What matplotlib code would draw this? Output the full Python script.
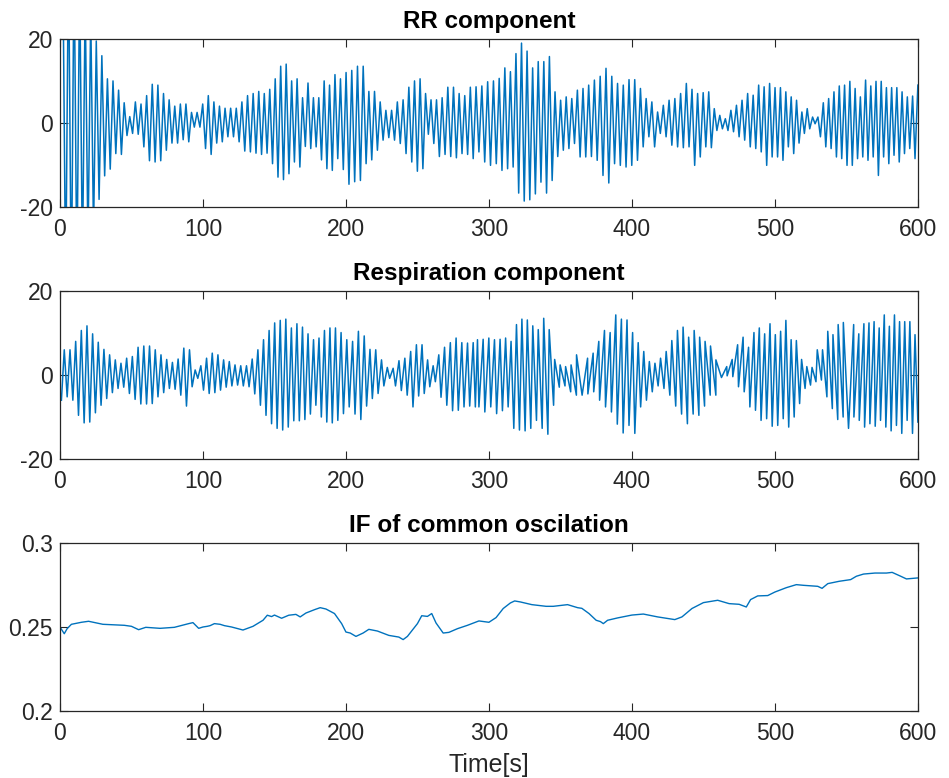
import numpy as np
import matplotlib
matplotlib.use("Agg")
import matplotlib.pyplot as plt

# ---------------- data ----------------
# IF of common oscillation (Hz) at sample times (s)
if_t = [0, 3, 5, 8, 15, 20, 30, 45, 50, 55, 60, 70, 80, 90, 93, 97, 100, 103, 105,
        108, 112, 115, 120, 128, 135, 142, 145, 148, 150, 155, 160, 165, 168, 172,
        178, 182, 186, 192, 197, 200, 203, 207, 212, 216, 222, 230, 237, 240, 243,
        250, 253, 257, 260, 263, 268, 272, 278, 285, 293, 300, 305, 310, 315, 318,
        322, 330, 340, 345, 355, 362, 365, 370, 375, 378, 380, 383, 390, 400, 408,
        418, 430, 435, 442, 450, 460, 468, 475, 480, 483, 488, 495, 500, 508, 515,
        520, 530, 533, 537, 545, 553, 557, 562, 570, 578, 582, 588, 592, 600]
if_v = [0.250, 0.246, 0.249, 0.2516, 0.2528, 0.2534, 0.2516, 0.251, 0.2504, 0.2484,
        0.2498, 0.2492, 0.2498, 0.252, 0.2526, 0.2492, 0.250, 0.2504, 0.2508, 0.252,
        0.2516, 0.2508, 0.250, 0.2482, 0.2504, 0.254, 0.257, 0.2562, 0.2571, 0.2552,
        0.257, 0.2575, 0.256, 0.2583, 0.2603, 0.2615, 0.2607, 0.258, 0.252, 0.247,
        0.2464, 0.2444, 0.2464, 0.2486, 0.2476, 0.245, 0.244, 0.2425, 0.2444, 0.252,
        0.2567, 0.2563, 0.258, 0.2524, 0.2464, 0.2468, 0.249, 0.251, 0.2536, 0.2528,
        0.2556, 0.261, 0.2643, 0.2655, 0.2649, 0.2633, 0.2623, 0.2623, 0.2633, 0.2615,
        0.2611, 0.258, 0.254, 0.2532, 0.252, 0.254, 0.2554, 0.2571, 0.2577, 0.256,
        0.2544, 0.256, 0.261, 0.2645, 0.2659, 0.2639, 0.2635, 0.2619, 0.2663, 0.2685,
        0.2687, 0.2708, 0.2734, 0.2752, 0.2748, 0.2742, 0.273, 0.2758, 0.2772, 0.2782,
        0.2802, 0.2815, 0.2821, 0.2821, 0.2825, 0.2802, 0.2786, 0.2792]

# RR component: successive cycle maxima / minima, first and second half
rr_upper_a = [38, 42, 40, 36, 30, 26,
              19.5, 16, 10.5, 10, 7.8, 4.8, 1.5, 5, 4.5, 6.5, 9.2, 9, 7, 5.5, 4, 4.5,
              4.5, 2.5, 2.5, 4.5, 6.5, 5, 4, 3.5, 3.5, 3.5, 5, 6.5, 7, 7.5, 7, 8, 10.5,
              13.5, 14, 10, 10.5, 6, 9.5, 6, 6, 10, 9, 11.5, 10.5, 12, 12.5, 13.5, 13.5,
              7.5, 7.5, 5, 3, 3, 5, 5.5, 8.5, 10, 10.5, 7, 5.5, 5.5, 6, 8.5, 8.5, 7,
              6.5, 8.5]
rr_upper_b = [8.6, 8.8, 9.8, 10, 10.6, 13.1, 12.2, 16.5, 19, 17.1, 13.1, 14.6, 14.6,
              15.8, 7.4, 5.4, 6.2, 5.8, 7.8, 8.2, 9, 10.2, 11.1, 13, 11.1, 9.4, 9, 10.3,
              10.3, 8.2, 5.8, 5, 2.6, 4.2, 5.4, 5.8, 7, 9.4, 8, 7, 7.2, 7.4, 3.4, 1.8,
              1, 3, 4.2, 5.4, 7, 6.6, 9, 8.6, 9.4, 8.4, 8.4, 7.4, 6.2, 5.4, 2.6, 3.4,
              1.4, 1.4, 4.8, 5.8, 7.4, 8.8, 9, 9.9, 8.2, 6.2, 10.2, 8.8, 9.9, 9.9, 8.4,
              8.4, 8.4, 7.4, 6.2, 6.4, 9]
rr_lower_a = [-40, -42, -38, -34, -30, -26,
              -18.2, -12.6, -11, -7.3, -7.5, -3, -2.5, -2.7, -5.7, -9, -9.3, -9, -6.5,
              -4.8, -4.8, -4, -4.5, -1, -1, -6.1, -7.5, -4.8, -4.5, -3.3, -3.3, -4.5,
              -6.7, -6.9, -7.2, -7.5, -7.2, -9.7, -12.9, -13.5, -12.1, -9.3, -10.5,
              -5.6, -6.1, -5.7, -8.8, -10.9, -11.3, -8.5, -11.1, -14.6, -14, -13.7,
              -9.7, -8.8, -6.5, -4.1, -3.5, -4.1, -4.9, -7.3, -9.3, -11.5, -10.9, -2.7,
              -4.9, -8, -7.5, -8, -8.3, -7.3, -7.5, -8.5]
rr_lower_b = [-6.9, -9.3, -10.1, -9.7, -11.3, -10.9, -10.5, -16.7, -18.6, -18.3, -16.9,
              -14.1, -16.7, -13.7, -8, -6.5, -6.1, -4.9, -8.1, -8.1, -8, -8.9, -12.5,
              -14.3, -9.7, -10.1, -10.5, -10.1, -8.9, -5.7, -3.3, -5.7, -2.5, -3.3,
              -5.3, -5.7, -5.9, -5.7, -10.1, -8.1, -5.7, -5.9, -1.8, -1.4, -1.8, -2.1,
              -3.3, -4.1, -5.7, -6.1, -6.9, -10.1, -8.1, -8.1, -8.9, -5.7, -7.3, -4.8,
              -2.5, -1.4, -0.2, -3.3, -5.7, -6.1, -8.1, -8.5, -10.1, -10.1, -8.5, -8.1,
              -8.9, -8.1, -12.5, -8.1, -9.7, -7.7, -9.3, -7.3, -6.1, -8.5]
# time (s) of first and last extreme in each list
rr_upper_span = [(2, 287), (291, 600)]
rr_lower_span = [(4, 289), (293, 598)]

# Respiration component: successive cycle maxima / minima
resp_upper_a = [6, 6, 8, 10.6, 11.7, 9.8, 7.8, 6.1, 4.8, 3.6, 2.8, 4, 4.4, 6.6, 6.9,
                6.9, 6, 4.8, 3.7, 3, 3.8, 6.4, 6, 1.2, 2.2, 4, 5.2, 4.8, 3.6, 3.2, 2.4,
                2.2, 2.2, 3.8, 6, 8.4, 10.6, 12.4, 13, 13.3, 11.2, 12.2, 11.4, 9.8, 8.4,
                8.8, 10.6, 11.2, 11.2, 10.1, 8.4, 8, 10.4, 9.3, 6.1, 6, 3.6, 1.8, 1.6,
                3.4, 4, 5.6, 7.2, 7.2, 3.6, 2.2, 4.8, 6.6, 7.7, 8.8, 7.7, 7.6, 7.7]
resp_upper_b = [8.4, 8.5, 8.8, 8.4, 8.5, 8.8, 8, 12, 13.3, 13.1, 11.7, 10.8, 13.5, 10.8,
                3.7, 2.4, 2, 2.4, 4.8, 4.4, 4, 5.2, 8, 10.6, 10.1, 14.3, 13.3, 13.1,
                10.1, 7.7, 5.6, 3.2, 2.8, 4, 5.6, 8.2, 10.6, 11.4, 9, 10.6, 9, 8, 6.9,
                3.6, 1.6, 2, 3.7, 7.2, 9, 6.6, 10.1, 11.2, 9.8, 12.2, 9.6, 10.4, 13,
                8.4, 8.2, 3.7, 2, 1.8, 6, 6, 10.4, 9.6, 12, 12.5, 10.4, 12, 9.8, 12.2,
                12.4, 12.7, 11.2, 14.3, 11.6, 14.3, 12.7, 12.7, 12.7, 9.6]
resp_lower_a = [-6, -5.2, -6, -9.6, -11.4, -11.2, -9, -7.2, -5.6, -4.2, -3.2, -2.9,
                -4.4, -5.8, -6.9, -6.9, -6.8, -5.2, -4.2, -3.2, -3.4, -4.8, -7.4, -2.8,
                -0.8, -3.6, -4.4, -4.2, -3.6, -2.9, -2.6, -2.4, -2.6, -2.8, -4.5, -7.2,
                -9.6, -11.6, -12.7, -13.1, -12.4, -10.9, -10.9, -10.6, -9.3, -7.2, -10,
                -11.2, -11.4, -10.8, -9.2, -7.6, -9.3, -10.6, -7.4, -5.6, -4.4, -2.6,
                -0.8, -2.6, -3.7, -4.8, -7.6, -5, -4.4, -2.8, -1.6, -5.3, -7.2, -8.5,
                -8.4, -7.6, -7.4, -7.6]
resp_lower_b = [-7.6, -8.8, -7.6, -9.2, -8.5, -7.6, -12.7, -13.1, -13.3, -12.7, -10.8,
                -12.7, -14.1, -7.2, -2.9, -2.6, -4, -4.8, -4.8, -4.5, -4, -6, -7.6, -8.8,
                -11.7, -13.8, -12, -13.9, -7.6, -6, -4, -2.6, -3.2, -4.8, -7.4, -9.3,
                -11.6, -9.3, -9.6, -7.4, -4.8, -4.8, -0.6, -0.2, -0.4, -2.8, -4, -7.6,
                -8.4, -10.8, -10.4, -12.2, -12, -10.4, -12.4, -10, -6.8, -3.2, -2.4,
                -1.6, -1.2, -5.2, -8, -10.6, -10, -12.7, -10, -10.8, -12.4, -11.6,
                -12.2, -10.8, -12.4, -13.3, -12, -13.9, -10.8, -13.9, -11.2]
resp_upper_span = [(3, 289), (292, 598)]
resp_lower_span = [(1, 290.5), (293, 600)]

blue = "#0072BD"
dark = "#262626"
plt.rcParams['font.family'] = ['Liberation Sans', 'DejaVu Sans']
plt.rcParams['axes.unicode_minus'] = False

# cycle timing follows the IF curve (cumulative phase)
tt = np.linspace(0, 600, 12001)
ff = np.interp(tt, if_t, if_v)
ph = np.concatenate([[0], np.cumsum((ff[1:] + ff[:-1]) / 2 * np.diff(tt))])


def extreme_times(n, t0, t1):
    p0, p1 = np.interp([t0, t1], tt, ph)
    return np.interp(np.linspace(p0, p1, n), ph, tt)


def build_wave(upper, upper_span, lower, lower_span):
    t_all, v_all, kind = [], [], []
    for vals, (t0, t1) in zip(upper, upper_span):
        t_all.append(extreme_times(len(vals), t0, t1))
        v_all.append(vals)
        kind.append(np.ones(len(vals)))
    for vals, (t0, t1) in zip(lower, lower_span):
        t_all.append(extreme_times(len(vals), t0, t1))
        v_all.append(vals)
        kind.append(-np.ones(len(vals)))
    t = np.concatenate(t_all)
    v = np.concatenate(v_all)
    k = np.concatenate(kind)
    order = np.argsort(t)
    t, v, k = t[order], v[order], k[order]
    # keep max/min strictly alternating: of two neighbours of the same kind
    # keep the larger one
    keep_t, keep_v, keep_k = [t[0]], [v[0]], [k[0]]
    for ti, vi, ki in zip(t[1:], v[1:], k[1:]):
        if ki == keep_k[-1]:
            if abs(vi) > abs(keep_v[-1]):
                keep_t[-1], keep_v[-1] = ti, vi
        else:
            keep_t.append(ti)
            keep_v.append(vi)
            keep_k.append(ki)
    return np.array(keep_t), np.array(keep_v)


def style_axes(ax):
    ax.set_xlim(0, 600)
    ax.set_xticks([0, 100, 200, 300, 400, 500, 600])
    ax.tick_params(direction='in', length=6, width=0.8, colors=dark,
                   labelsize=16.5, top=True, right=True)
    ax.tick_params(axis='x', pad=8)
    ax.tick_params(axis='y', pad=5)
    for s in ax.spines.values():
        s.set_color(dark)
        s.set_linewidth(0.9)


fig = plt.figure(figsize=(9.49, 7.78), dpi=100)
ax1 = fig.add_axes([0.0632, 0.734, 0.904, 0.216])
ax2 = fig.add_axes([0.0632, 0.410, 0.904, 0.216])
ax3 = fig.add_axes([0.0632, 0.0861, 0.904, 0.216])

t_rr, v_rr = build_wave([rr_upper_a, rr_upper_b], rr_upper_span,
                        [rr_lower_a, rr_lower_b], rr_lower_span)
ax1.plot(t_rr, v_rr, color=blue, linewidth=1.1)
ax1.set_ylim(-20, 20)
ax1.set_yticks([-20, 0, 20])
ax1.set_title("RR component", fontsize=17.5, fontweight='bold', pad=8)
style_axes(ax1)

t_rs, v_rs = build_wave([resp_upper_a, resp_upper_b], resp_upper_span,
                        [resp_lower_a, resp_lower_b], resp_lower_span)
ax2.plot(t_rs, v_rs, color=blue, linewidth=1.1)
ax2.set_ylim(-20, 20)
ax2.set_yticks([-20, 0, 20])
ax2.set_title("Respiration component", fontsize=17.5, fontweight='bold', pad=8)
style_axes(ax2)

ax3.plot(if_t, if_v, color=blue, linewidth=1.0)
ax3.set_ylim(0.2, 0.3)
ax3.set_yticks([0.2, 0.25, 0.3])
ax3.set_yticklabels(["0.2", "0.25", "0.3"])
ax3.set_title("IF of common oscilation", fontsize=17.5, fontweight='bold', pad=8)
ax3.set_xlabel("Time[s]", fontsize=18, color=dark, labelpad=6)
style_axes(ax3)

fig.savefig("out.png", dpi=100)
